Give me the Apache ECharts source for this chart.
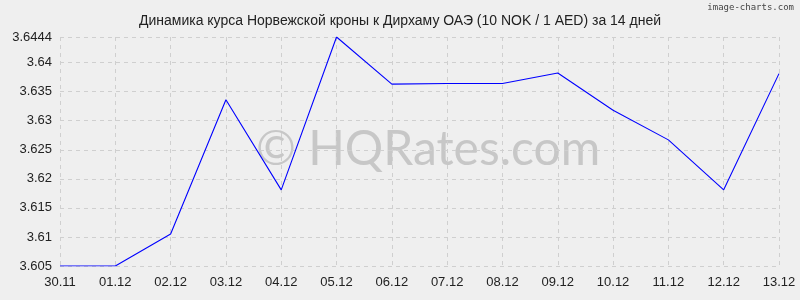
<!DOCTYPE html>
<html><head><meta charset="utf-8">
<script src="https://cdn.jsdelivr.net/npm/echarts@6/dist/echarts.min.js"></script>
<style>html,body{margin:0;padding:0;background:#efefef}#c{width:800px;height:300px}</style>
</head><body><div id="c"></div>
<script>
var categories = ['30.11','01.12','02.12','03.12','04.12','05.12','06.12','07.12','08.12','09.12','10.12','11.12','12.12','13.12'];
var values = [3.605,3.605,3.6105,3.6336,3.6181,3.6444,3.6363,3.6364,3.6364,3.6382,3.6318,3.6267,3.6181,3.6381];
var yMin = 3.605, yMax = 3.6444, yStep = 0.005;
var titleText = 'Динамика курса Норвежской кроны к Дирхаму ОАЭ (10 NOK / 1 AED) за 14 дней';
var chart = echarts.init(document.getElementById('c'), null, {renderer:'canvas'});
chart.setOption({
  backgroundColor:'#efefef',
  animation:false,
  title:{text:titleText,left:'center',top:9,textStyle:{fontFamily:'Liberation Sans, Arial',fontSize:14,fontWeight:'normal',color:'#222'}},
  graphic:[
    {type:'text',right:6,top:3,style:{text:'image-charts.com',font:'9px DejaVu Sans Mono',fill:'#444'}},
    {type:'text',left:256,top:126,z:0,style:{text:'© HQRates.com',font:'48px Lato, "Open Sans", sans-serif',fill:'rgba(150,150,150,0.45)'}}
  ],
  grid:{left:60,right:21,top:37,bottom:34},
  xAxis:{type:'category',data:categories,boundaryGap:false,
    axisLine:{show:false},axisTick:{show:false},
    axisLabel:{color:'#222',fontSize:13,fontFamily:'Liberation Sans, Arial',margin:10},
    splitLine:{show:true,lineStyle:{color:'#cfcfcf',type:[4,4],width:1}}},
  yAxis:{type:'value',min:yMin,max:yMax,interval:yStep,
    axisLine:{show:false},axisTick:{show:false},
    axisLabel:{color:'#222',fontSize:13,fontFamily:'Liberation Sans, Arial',margin:8,showMaxLabel:true,
      formatter:function(v){return String(+v.toFixed(4));}},
    splitLine:{show:true,lineStyle:{color:'#cfcfcf',type:[4,4],width:1}}},
  series:[{type:'line',data:values,symbol:'none',lineStyle:{color:'#0000ff',width:1.1},z:3}]
});
</script></body></html>
